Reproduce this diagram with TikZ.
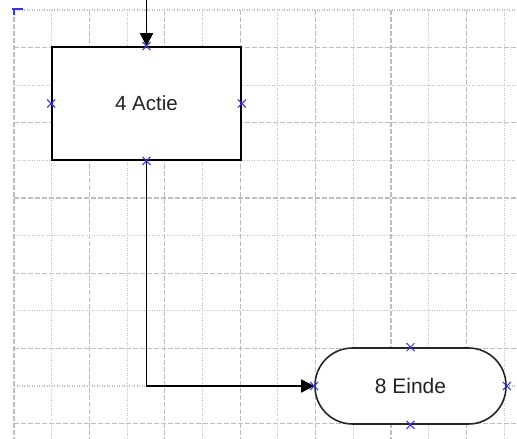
\documentclass[tikz,border=0pt]{standalone}
\usepackage{fontspec}
\setmainfont{Liberation Sans}
\usetikzlibrary{arrows.meta,shapes.misc}
\definecolor{gridgray}{RGB}{190,190,190}
\definecolor{markblue}{RGB}{50,50,255}
\definecolor{txt}{RGB}{35,35,35}
\tikzset{
  majorline/.style={gridgray, line width=1.1pt, dash pattern=on 5pt off 2pt},
  minorline/.style={gridgray, line width=1.1pt, dash pattern=on 1pt off 1.5pt},
  actbox/.style={draw=black, line width=1.6pt, fill=white, minimum width=189pt, minimum height=113pt, inner sep=0pt, font=\fontsize{20.5}{23}\selectfont, text=txt},
  termbox/.style={draw=black!85, line width=1.6pt, fill=white, rounded corners=37.5pt, minimum width=191pt, minimum height=76pt, inner sep=0pt, font=\fontsize{21}{24}\selectfont, text=txt},
  conn/.style={black, line width=1.6pt, -{Triangle[length=13pt,width=13pt]}},
  xmark/.style={cross out, draw=markblue, line width=1pt, minimum size=7pt, inner sep=0pt}
}
\begin{document}
\begin{tikzpicture}[x=1pt,y=-1pt]
\useasboundingbox[fill=white] (0,0) rectangle (517,439);
% grid
\foreach \k in {0,2,...,12} {
  \draw[minorline] (14,10+37.6*\k) -- (517,10+37.6*\k);
}
\foreach \k in {1,3,...,11} {
  \draw[majorline] (14,10+37.6*\k) -- (517,10+37.6*\k);
}
\foreach \k in {0,2,...,12} {
  \draw[majorline] (14+37.7*\k,10) -- (14+37.7*\k,439);
}
\foreach \k in {1,3,...,13} {
  \draw[minorline] (14+37.7*\k,10) -- (14+37.7*\k,439);
}
% corner mark
\draw[markblue, line width=2.5pt] (11.5,9) -- (23,9);
\draw[markblue, line width=2.5pt] (14,8) -- (14,14.5);
% nodes
\node[actbox] (act) at (146.5,103.5) {4 Actie};
\node[termbox] (end) at (410.5,386) {8 Einde};
\coordinate (top) at (146.5,0);
% connectors
\draw[conn] (top) -- (act.north);
\draw[conn] (act.south) |- (end.west);
% connection marks
\node[xmark] (m1) at (act.north) {};
\node[xmark] (m2) at (act.south) {};
\node[xmark] (m3) at (act.west) {};
\node[xmark] (m4) at (act.east) {};
\node[xmark] (m5) at (end.north) {};
\node[xmark] (m6) at (end.south) {};
\node[xmark] (m7) at (end.west) {};
\node[xmark] (m8) at (end.east) {};
\end{tikzpicture}
\end{document}
